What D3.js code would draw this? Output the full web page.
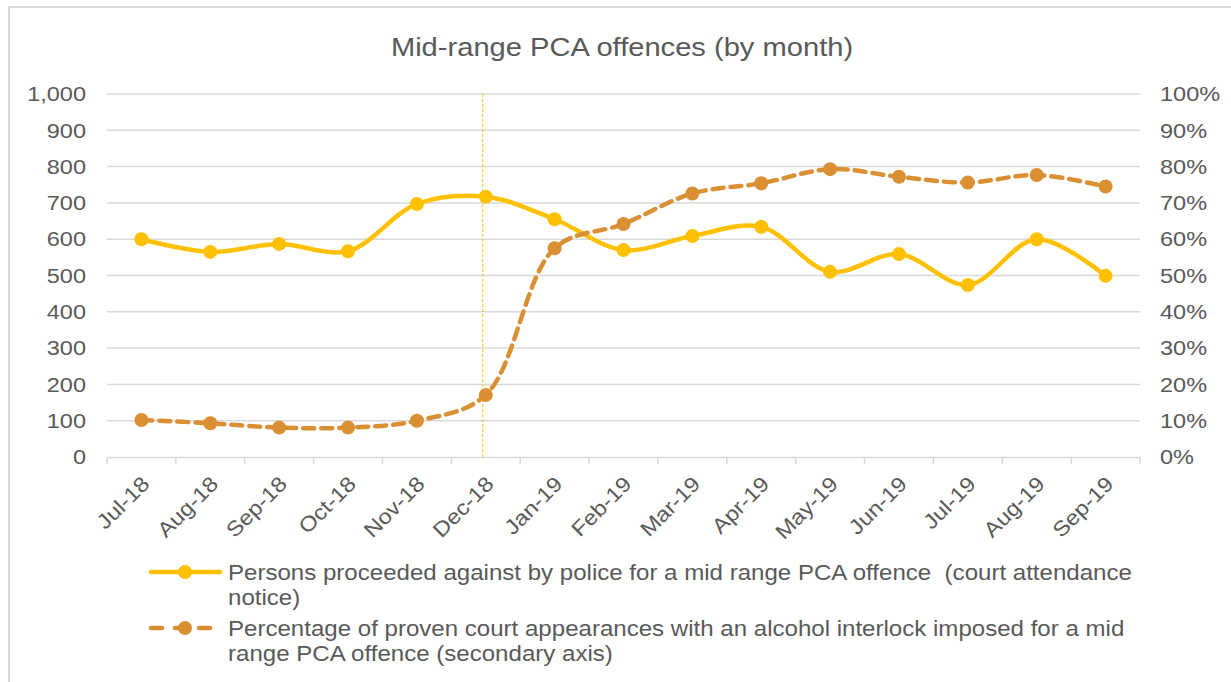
<!DOCTYPE html>
<html>
<head>
<meta charset="utf-8">
<script src="https://cdn.jsdelivr.net/npm/d3@7"></script>
<style>
  html, body { margin: 0; padding: 0; background: #fff; }
  svg { display: block; font-family: "Liberation Sans", Arial, sans-serif; }
</style>
</head>
<body>
<svg id="chart" width="1231" height="682"></svg>
<script>
const title = "Mid-range PCA offences (by month)";
const months = ["Jul-18","Aug-18","Sep-18","Oct-18","Nov-18","Dec-18","Jan-19","Feb-19","Mar-19","Apr-19","May-19","Jun-19","Jul-19","Aug-19","Sep-19"];
const persons = [600, 565, 587, 567, 697, 717, 655, 570, 609, 634, 510, 559, 474, 600, 499];
const interlockPct = [0.102, 0.093, 0.081, 0.081, 0.100, 0.171, 0.575, 0.642, 0.726, 0.754, 0.793, 0.772, 0.756, 0.777, 0.745];
const leftTicks = [0, 100, 200, 300, 400, 500, 600, 700, 800, 900, 1000];
const rightTicks = [0, 0.1, 0.2, 0.3, 0.4, 0.5, 0.6, 0.7, 0.8, 0.9, 1.0];
const markerMonth = "Dec-18";
const legendLabels = [
  ["Persons proceeded against by police for a mid range PCA offence  (court attendance", "notice)"],
  ["Percentage of proven court appearances with an alcohol interlock imposed for a mid", "range PCA offence (secondary axis)"]
];

const col1 = "#FFC000", col2 = "#DA8F32", textCol = "#595959", gridCol = "#D9D9D9";
const SX = 1.12; // horizontal text stretch
const svg = d3.select("#chart");
const L = 107, R = 1140, T = 94, B = 457;

// outer border
svg.append("rect").attr("x", 9).attr("y", 7).attr("width", 1300).attr("height", 800)
  .attr("fill", "none").attr("stroke", gridCol).attr("stroke-width", 2);

svg.append("text").attr("transform", `translate(622,56) scale(${SX},1)`).attr("text-anchor", "middle")
  .attr("font-size", 26).attr("fill", textCol).text(title);

const x = d3.scaleBand().domain(months).range([L, R]);
const y = d3.scaleLinear().domain([0, 1000]).range([B, T]);
const y2 = d3.scaleLinear().domain([0, 1]).range([B, T]);

// gridlines
svg.append("g").selectAll("line").data(leftTicks.filter(d => d > 0)).join("line")
  .attr("x1", L).attr("x2", R).attr("y1", d => y(d)).attr("y2", d => y(d))
  .attr("stroke", gridCol).attr("stroke-width", 1.5);

const FF = "Liberation Sans, Arial, sans-serif";

// left axis
const gl = svg.append("g").attr("transform", `translate(${L},0)`)
  .call(d3.axisLeft(y).tickValues(leftTicks).tickFormat(d3.format(",")).tickSize(0).tickPadding(21));
gl.select(".domain").remove();
gl.selectAll("text").attr("font-size", 21).attr("fill", textCol).attr("font-family", FF)
  .attr("x", -21 / SX).attr("transform", `scale(${SX},1)`);

// right axis
const gr = svg.append("g").attr("transform", `translate(${R},0)`)
  .call(d3.axisRight(y2).tickValues(rightTicks).tickFormat(d3.format(".0%")).tickSize(0).tickPadding(20));
gr.select(".domain").remove();
gr.selectAll("text").attr("font-size", 21).attr("fill", textCol).attr("font-family", FF)
  .attr("x", 20 / SX).attr("transform", `scale(${SX},1)`);

// bottom axis
const gb = svg.append("g").attr("transform", `translate(0,${B})`)
  .call(d3.axisBottom(x).tickSize(0).tickPadding(0));
gb.select(".domain").attr("stroke", gridCol).attr("stroke-width", 1.5);
gb.selectAll("text")
  .attr("font-size", 21).attr("fill", textCol).attr("font-family", FF)
  .attr("text-anchor", "end")
  .attr("y", 0)
  .attr("dy", "0.35em")
  .attr("transform", `translate(4,23) rotate(-45) scale(${SX},1)`);
// category boundary ticks
const bounds = months.map(m => x(m)).concat([R]);
svg.append("g").selectAll("line").data(bounds).join("line")
  .attr("x1", d => d).attr("x2", d => d).attr("y1", B).attr("y2", B + 7)
  .attr("stroke", gridCol).attr("stroke-width", 1.5);

const cx = m => x(m) + x.bandwidth() / 2;

// vertical marker line
svg.append("line").attr("x1", cx(markerMonth) - 3).attr("x2", cx(markerMonth) - 3)
  .attr("y1", T).attr("y2", B).attr("stroke", col1).attr("stroke-width", 1).attr("stroke-dasharray", "3,2");

const curve = d3.curveCatmullRom.alpha(0.5);

// series 1
const line1 = d3.line().x((d, i) => cx(months[i])).y(d => y(d)).curve(curve);
svg.append("path").datum(persons).attr("d", line1).attr("fill", "none")
  .attr("stroke", col1).attr("stroke-width", 4.5).attr("stroke-linecap", "round");
svg.append("g").selectAll("circle").data(persons).join("circle")
  .attr("cx", (d, i) => cx(months[i])).attr("cy", d => y(d)).attr("r", 7).attr("fill", col1);

// series 2
const line2 = d3.line().x((d, i) => cx(months[i])).y(d => y2(d)).curve(curve);
svg.append("path").datum(interlockPct).attr("d", line2).attr("fill", "none")
  .attr("stroke", col2).attr("stroke-width", 4.5).attr("stroke-dasharray", "11,7").attr("stroke-linecap", "round");
svg.append("g").selectAll("circle").data(interlockPct).join("circle")
  .attr("cx", (d, i) => cx(months[i])).attr("cy", d => y2(d)).attr("r", 7).attr("fill", col2);

// legend
const lg = svg.append("g");
const ly = [572, 628];
lg.append("line").attr("x1", 151).attr("x2", 220).attr("y1", ly[0]).attr("y2", ly[0])
  .attr("stroke", col1).attr("stroke-width", 4.5).attr("stroke-linecap", "round");
lg.append("circle").attr("cx", 185).attr("cy", ly[0]).attr("r", 7).attr("fill", col1);
lg.append("line").attr("x1", 151).attr("x2", 220).attr("y1", ly[1]).attr("y2", ly[1])
  .attr("stroke", col2).attr("stroke-width", 4.5).attr("stroke-linecap", "round").attr("stroke-dasharray", "11,13");
lg.append("circle").attr("cx", 185).attr("cy", ly[1]).attr("r", 7).attr("fill", col2);

legendLabels.forEach((lines, k) => {
  const t = lg.append("text").attr("transform", `translate(228,${ly[k] + 8}) scale(${SX},1)`)
    .attr("font-size", 21.5).attr("fill", textCol).style("white-space", "pre");
  lines.forEach((s, j) => {
    t.append("tspan").attr("x", 0).attr("dy", j === 0 ? 0 : 25).text(s);
  });
});
</script>
</body>
</html>
